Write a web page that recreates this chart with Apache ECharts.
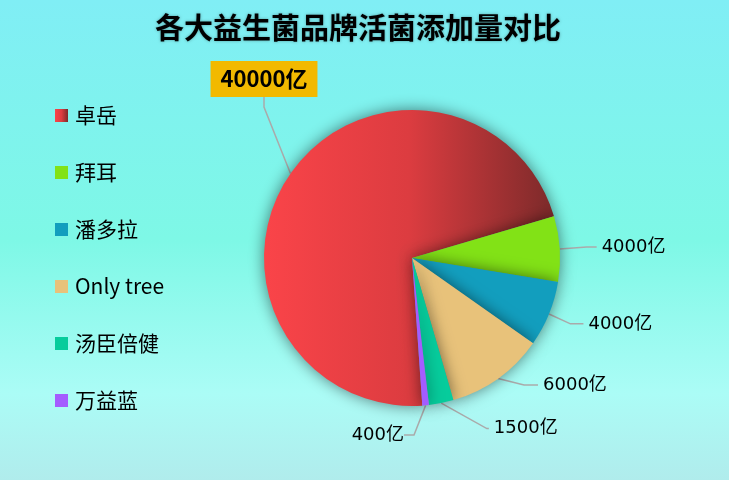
<!DOCTYPE html>
<html>
<head>
<meta charset="utf-8">
<script src="https://cdn.jsdelivr.net/npm/echarts@6/dist/echarts.min.js"></script>
<style>
html,body{margin:0;padding:0;}
#main{width:729px;height:480px;}
</style>
</head>
<body>
<div id="main"></div>
<script>
var titleText = '各大益生菌品牌活菌添加量对比';
var brands = ['卓岳', '拜耳', '潘多拉', 'Only tree', '汤臣倍健', '万益蓝'];
var values = [40000, 4000, 4000, 6000, 1500, 400];
var unit = '亿';
var colors = ['#f94449', '#82e216', '#129ebe', '#e8c27a', '#06cc9c', '#a45cff'];

var FONT = '"Microsoft YaHei","Noto Sans CJK SC",sans-serif';
var LABEL_FONT = '"DejaVu Sans","Noto Sans CJK SC",sans-serif';

var chart = echarts.init(document.getElementById('main'));

var data = brands.map(function (b, i) {
  var item = { name: b, value: values[i], itemStyle: { color: colors[i] } };
  if (i === 0) {
    item.itemStyle.color = new echarts.graphic.LinearGradient(0, 0, 1, 0, [
      { offset: 0, color: '#fa4449' },
      { offset: 0.5, color: '#dc3c40' },
      { offset: 1, color: '#7c2a2a' }
    ]);
    item.label = {
      fontSize: 22,
      fontWeight: 'bold',
      color: '#000',
      fontFamily: FONT,
      backgroundColor: '#f2b900',
      padding: [7, 10]
    };
  }
  if (i === 1) {
    item.labelLine = { length: 32, length2: 10 };
  }
  if (i === 2) {
    item.labelLine = { length: 26, length2: 13 };
  }
  if (i === 3) {
    item.labelLine = { length: 8, length2: 14 };
  }
  if (i === 4) {
    item.labelLine = { length: 26, length2: 2 };
  }
  return item;
});

chart.setOption({
  backgroundColor: new echarts.graphic.LinearGradient(0, 0, 0, 1, [
    { offset: 0, color: '#80eef5' },
    { offset: 0.5, color: '#7ef8e6' },
    { offset: 0.82, color: '#abfcf6' },
    { offset: 1, color: '#b0ecec' }
  ]),
  title: {
    text: titleText,
    left: 150,
    top: 8,
    textStyle: {
      fontSize: 29,
      fontWeight: 'bold',
      color: '#000',
      fontFamily: FONT,
      textShadowColor: 'rgba(0,0,0,0.35)',
      textShadowBlur: 3
    }
  },
  legend: {
    orient: 'vertical',
    left: 50,
    top: 100,
    itemWidth: 13,
    itemHeight: 13,
    itemGap: 36,
    icon: 'rect',
    textStyle: { fontSize: 21, color: '#000', fontFamily: FONT, padding: [0, 0, 0, 2] },
    data: brands
  },
  series: [{
    type: 'pie',
    center: [412, 258],
    radius: 148,
    startAngle: 274,
    clockwise: true,
    avoidLabelOverlap: true,
    data: data,
    itemStyle: {
      shadowBlur: 15,
      shadowColor: 'rgba(0,0,0,0.5)'
    },
    label: {
      show: true,
      formatter: function (p) { return p.value + unit; },
      fontSize: 18,
      color: '#000',
      fontFamily: LABEL_FONT
    },
    labelLine: {
      length: 26,
      length2: 10,
      lineStyle: { color: '#aaa', width: 1.5 }
    },
    labelLayout: function (params) {
      if (params.dataIndex === 0) {
        return { x: 264, y: 79, align: 'center', verticalAlign: 'middle' };
      }
      if (params.dataIndex === 5) {
        return { x: 404, y: 435, align: 'right', verticalAlign: 'middle' };
      }
    }
  }]
});
</script>
</body>
</html>
